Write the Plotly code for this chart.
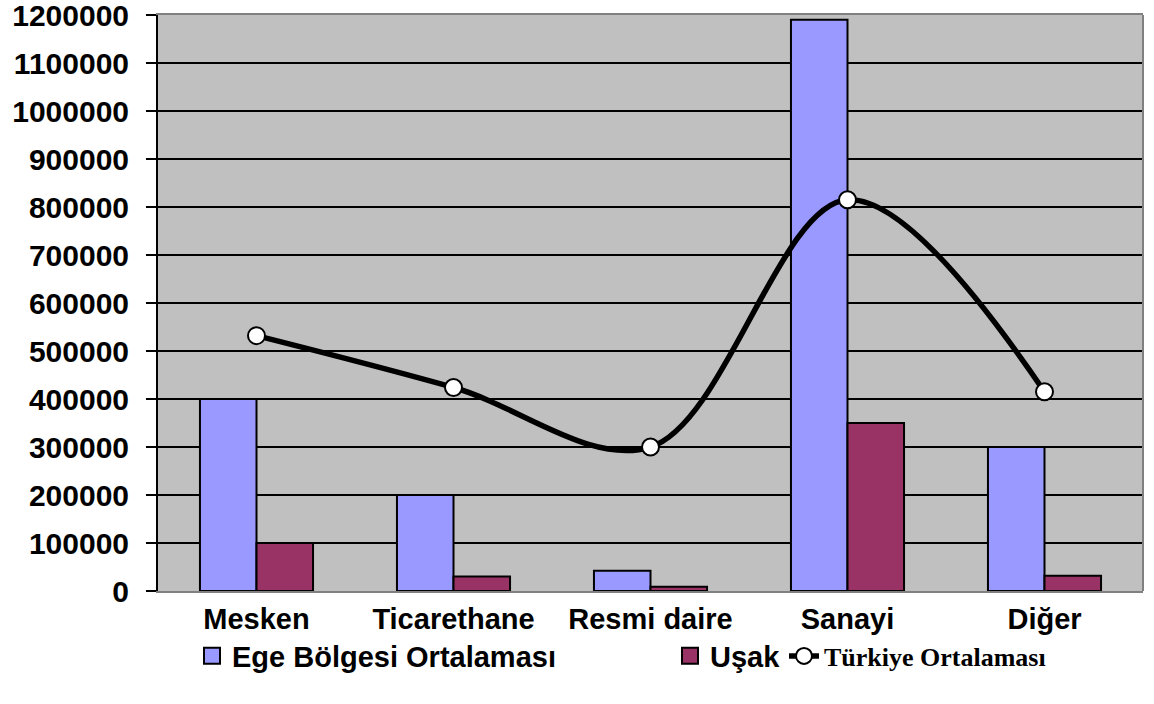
import plotly.graph_objects as go

categories = ["Mesken", "Ticarethane", "Resmi daire", "Sanayi", "Diğer"]
ege = [400000, 200000, 42000, 1190000, 300000]
usak = [100000, 30000, 9000, 350000, 32000]
turkiye = [532000, 424000, 300000, 815000, 415000]
y_ticks = list(range(0, 1200001, 100000))

SANS = "Liberation Sans, Arial, sans-serif"
SERIF = "Liberation Serif, Times New Roman, serif"
EGE_C = "#9999FF"
USAK_C = "#993366"

fig = go.Figure()
fig.add_trace(go.Bar(x=categories, y=ege, name="Ege Bölgesi Ortalaması",
                     marker=dict(color=EGE_C, line=dict(color="black", width=2)),
                     showlegend=False, legendgroup="ege"))
fig.add_trace(go.Bar(x=categories, y=usak, name="Uşak",
                     marker=dict(color=USAK_C, line=dict(color="black", width=2)),
                     showlegend=False, legendgroup="usak"))
fig.add_trace(go.Scatter(x=categories, y=turkiye, name="Türkiye Ortalaması",
                         mode="lines+markers",
                         line=dict(color="black", width=5.5, shape="spline", smoothing=1),
                         marker=dict(size=17, color="white", line=dict(color="black", width=2)),
                         legend="legend3"))
# legend keys (same groups as bars)
fig.add_trace(go.Scatter(x=[None], y=[None], mode="markers", name="Ege Bölgesi Ortalaması",
                         legendgroup="ege", legend="legend",
                         marker=dict(symbol="square", size=16, color=EGE_C,
                                     line=dict(color="black", width=2))))
fig.add_trace(go.Scatter(x=[None], y=[None], mode="markers", name="Uşak",
                         legendgroup="usak", legend="legend2",
                         marker=dict(symbol="square", size=16, color=USAK_C,
                                     line=dict(color="black", width=2))))

LEG_Y = 1 - 656 / 704
fig.update_layout(
    width=1154, height=704,
    margin=dict(l=158, r=11, t=15, b=113),
    paper_bgcolor="white", plot_bgcolor="#C0C0C0",
    barmode="group", bargap=0.426, bargroupgap=0,
    font=dict(family=SANS, size=29, color="black", weight="bold"),
    legend=dict(orientation="h", xref="container", yref="container",
                x=192/1154, y=LEG_Y, xanchor="left", yanchor="middle",
                font=dict(family=SANS, size=29, color="black", weight="bold"),
                bgcolor="rgba(0,0,0,0)"),
    legend2=dict(orientation="h", xref="container", yref="container",
                 x=670/1154, y=LEG_Y, xanchor="left", yanchor="middle",
                 font=dict(family=SANS, size=29, color="black", weight="bold"),
                 bgcolor="rgba(0,0,0,0)"),
    legend3=dict(orientation="h", xref="container", yref="container",
                 x=784/1154, y=LEG_Y, xanchor="left", yanchor="middle",
                 font=dict(family=SERIF, size=26, color="black", weight="bold"),
                 bgcolor="rgba(0,0,0,0)"),
    showlegend=True,
)

fig.update_xaxes(showline=True, linecolor="#808080", linewidth=2, mirror=True,
                 ticks="", showgrid=False, automargin=False,
                 tickfont=dict(family=SANS, size=29, color="black", weight="bold"),
                 ticklabelstandoff=1)
fig.update_yaxes(range=[0, 1200000], tickvals=y_ticks, tickformat="d",
                 showline=True, linecolor="black", linewidth=2,
                 ticks="outside", ticklen=10, tickwidth=2, tickcolor="black",
                 showgrid=True, gridcolor="black", gridwidth=1.5, zeroline=False,
                 automargin=False, ticklabeloverflow="allow",
                 tickfont=dict(family=SANS, size=30, color="black", weight="bold"),
                 ticklabelstandoff=11)
fig.add_shape(type="line", xref="paper", yref="paper", x0=1, x1=1, y0=0, y1=1,
              line=dict(color="#808080", width=2))

fig.write_html("out.html", config={"displayModeBar": False},
               post_script="document.body.style.margin='0';")
